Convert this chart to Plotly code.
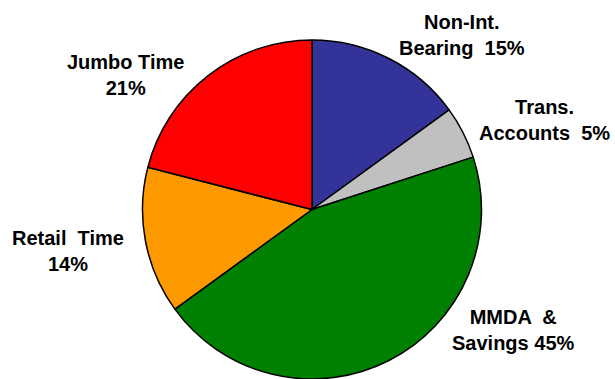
import plotly.graph_objects as go

# Deposit mix by category (percent of total)
categories = ["Non-Int.<br>Bearing", "Trans.<br>Accounts", "MMDA &<br>Savings", "Retail Time", "Jumbo Time"]
shares = [15, 5, 45, 14, 21]
colors = ["#333399", "#C0C0C0", "#008000", "#FF9900", "#FF0000"]

# Label anchor points (page pixels from top-left) and line breaks
label_pos = [(462, 35), (544, 120), (513, 330), (68, 251), (126, 75)]
label_text = [
    "Non-Int.<br>Bearing  15%",
    "Trans.<br>Accounts  5%",
    "MMDA  &<br>Savings 45%",
    "Retail  Time<br>14%",
    "Jumbo Time<br>21%",
]

W, H = 615, 379
M_TOP = 40
plot_h = H - M_TOP

fig = go.Figure(
    go.Pie(
        labels=categories,
        values=shares,
        sort=False,
        direction="clockwise",
        rotation=0,
        marker=dict(colors=colors, line=dict(color="black", width=1.5)),
        textinfo="none",
        hoverinfo="label+percent",
        showlegend=False,
        domain=dict(x=[0.2, 0.8146], y=[0, 1]),
    )
)

for (px, py), txt in zip(label_pos, label_text):
    fig.add_annotation(
        x=px / W,
        y=1 - (py - M_TOP) / plot_h,
        xref="paper",
        yref="paper",
        text=f"<b>{txt}</b>",
        showarrow=False,
        align="center",
        xanchor="center",
        yanchor="middle",
        font=dict(family="Arial, Liberation Sans, sans-serif", size=20, color="black"),
    )

fig.update_layout(
    width=W,
    height=H,
    margin=dict(l=0, r=0, t=M_TOP, b=0),
    paper_bgcolor="white",
    plot_bgcolor="white",
)

fig.write_html("out.html")
